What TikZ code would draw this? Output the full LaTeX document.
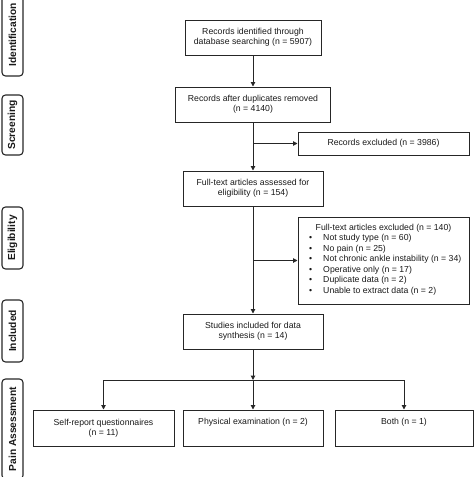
\documentclass[tikz,border=0pt]{standalone}
\usepackage{fontspec}
\setmainfont{Liberation Sans}
\usetikzlibrary{arrows.meta}
\begin{document}
\begin{tikzpicture}[x=1pt,y=1pt,
  every node/.style={font=\fontsize{8.7}{10}\selectfont, inner sep=0pt, align=center, text=black!90},
  box/.style={draw=black!85, line width=1pt},
  stage/.style={draw=black!85, line width=1.1pt, rounded corners=3.5pt, rotate=90,
    minimum height=21pt, font=\fontsize{10.2}{12}\selectfont\bfseries},
  arr/.style={draw=black!85, line width=1pt, -{Triangle[length=4.5pt,width=4.5pt]}},
  ln/.style={draw=black!85, line width=1pt}]
\useasboundingbox (0,0) rectangle (474,-477);

% stage labels
\node[stage, minimum width=82pt] (sid) at (12.5,-35) {Identification};
\node[stage, minimum width=60pt] (ssc) at (12.5,-125) {Screening};
\node[stage, minimum width=62pt] (sel) at (12.5,-238) {Eligibility};
\node[stage, minimum width=62pt] (sin) at (12.5,-331) {Included};
\node[stage, minimum width=100pt] (spa) at (12.5,-429) {Pain Assessment};

% main boxes
\node[box, minimum width=136pt, minimum height=35pt] (b1) at (253,-37.5)
  {Records identified through\\database searching (n = 5907)};
\node[box, minimum width=155pt, minimum height=35pt] (b2) at (253,-104.5)
  {Records after duplicates removed\\(n = 4140)};
\node[box, minimum width=140pt, minimum height=35pt] (b3) at (253,-188.5)
  {Full-text articles assessed for\\eligibility (n = 154)};
\node[box, minimum width=140pt, minimum height=35pt] (b4) at (253,-331.5)
  {Studies included for data\\synthesis (n = 14)};

% exclusion boxes
\node[box, minimum width=171pt, minimum height=23pt] (e1) at (383.5,-143.5)
  {Records excluded (n = 3986)};
\node[box, minimum width=171pt, minimum height=87pt] (e2) at (383.5,-260.5) {};
\node[anchor=west, align=left] (e2t) at (309,-259.5) {%
  \renewcommand{\arraystretch}{1.05}%
  \begin{tabular}{@{}l@{\hspace{11pt}}l@{}}
  \multicolumn{2}{@{}l}{\hspace{6.5pt}Full-text articles excluded (n = 140)}\\
  \textbullet & Not study type (n = 60)\\
  \textbullet & No pain (n = 25)\\
  \textbullet & Not chronic ankle instability (n = 34)\\
  \textbullet & Operative only (n = 17)\\
  \textbullet & Duplicate data (n = 2)\\
  \textbullet & Unable to extract data (n = 2)
  \end{tabular}};

% bottom boxes
\node[box, minimum width=141pt, minimum height=36pt] (p1) at (103.5,-428)
  {Self-report questionnaires\\(n = 11)};
\node[box, minimum width=140pt, minimum height=36pt] (p2) at (253,-428)
  {Physical examination (n = 2)\\\strut};
\node[box, minimum width=138pt, minimum height=36pt] (p3) at (404,-428)
  {Both (n = 1)\\\strut};

% connectors
\draw[arr] (b1.south) -- (b2.north);
\draw[arr] (b2.south) -- (b3.north);
\draw[arr] (b3.south) -- (b4.north);
\draw[arr] (b2.south |- e1.west) -- (e1.west);
\draw[arr] (b3.south |- e2.west) -- (e2.west);
\coordinate (br) at (253,-380);
\draw[arr] (b4.south) -- (br);
\draw[arr] (br) -- (p2.north);
\draw[arr] (br) -| (p1.north);
\draw[arr] (br) -| (p3.north);
\end{tikzpicture}
\end{document}
